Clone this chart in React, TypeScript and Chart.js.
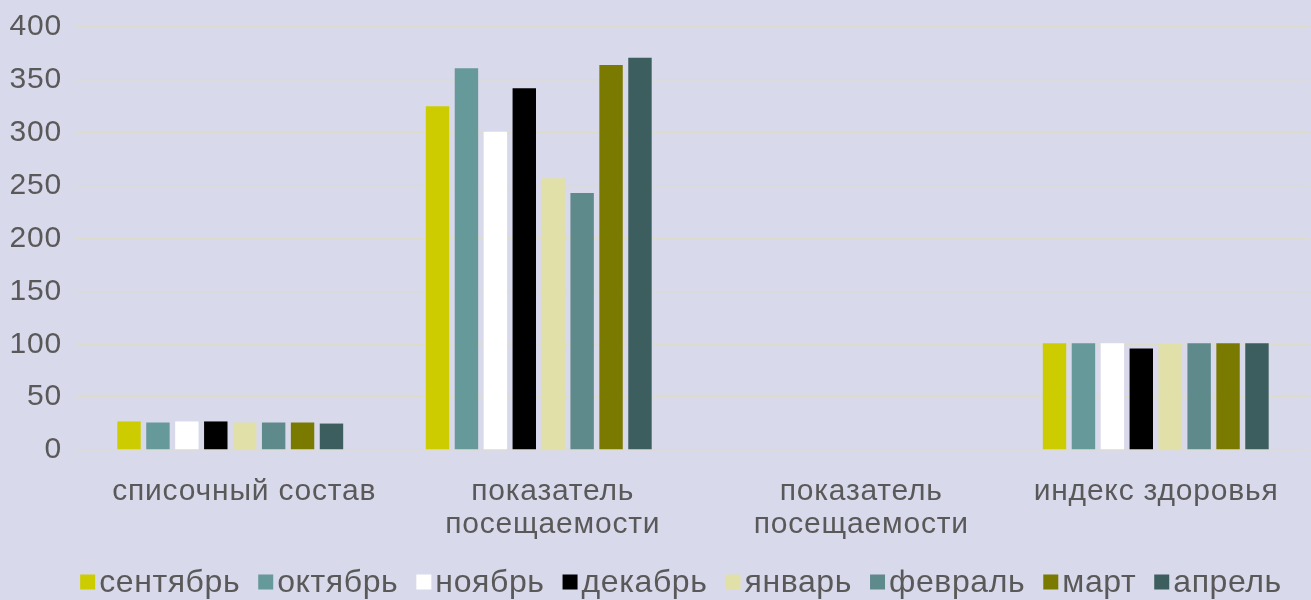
import React, { useEffect, useRef } from "react";
import { Chart, registerables } from "chart.js";

Chart.register(...registerables);

const categories: (string | string[])[] = [
  "списочный состав",
  ["показатель", "посещаемости"],
  ["показатель", "посещаемости"],
  "индекс здоровья",
];

const seriesNames = ["сентябрь", "октябрь", "ноябрь", "декабрь", "январь", "февраль", "март", "апрель"];
const seriesColors = ["#cccc00", "#669999", "#ffffff", "#000000", "#e0e0a8", "#5f8a8b", "#7a7a00", "#3d5e5e"];

const september = [27, 325, null, 101];
const october = [26, 361, null, 101];
const november = [27, 301, null, 101];
const december = [27, 342, null, 96];
const january = [26, 257, null, 101];
const february = [26, 243, null, 101];
const march = [26, 364, null, 101];
const april = [25, 371, null, 101];

const seriesValues = [september, october, november, december, january, february, march, april];

const yMax = 400;
const yStep = 50;

const FAMILY = "'Liberation Sans', Arial, sans-serif";
const TEXT_COLOR = "#595959";

const spacingPlugin = {
  id: "letterSpacing",
  beforeLayout(chart: any) {
    (chart.ctx as any).letterSpacing = "0.8px";
  },
  beforeDraw(chart: any) {
    (chart.ctx as any).letterSpacing = "0.8px";
  },
};

const legendPlugin = {
  id: "customLegend",
  afterDraw(chart: any) {
    const ctx = chart.ctx as CanvasRenderingContext2D;
    ctx.save();
    (ctx as any).letterSpacing = "0.6px";
    ctx.font = `32px ${FAMILY}`;
    const box = 15;
    const gap = 4;
    const spacing = 18;
    const items = chart.data.datasets.map((ds: any) => ({
      label: ds.label as string,
      color: ds.backgroundColor as string,
      w: ctx.measureText(ds.label).width,
    }));
    const total = items.reduce((s: number, it: any) => s + box + gap + it.w, 0) + spacing * (items.length - 1);
    let x = 681 - total / 2;
    const yc = 582;
    ctx.textBaseline = "middle";
    ctx.textAlign = "left";
    items.forEach((it: any) => {
      ctx.fillStyle = it.color;
      ctx.fillRect(x, yc - box / 2, box, box);
      x += box + gap;
      ctx.fillStyle = TEXT_COLOR;
      ctx.fillText(it.label, x, yc + 1);
      x += it.w + spacing;
    });
    ctx.restore();
  },
};

export default function App() {
  const ref = useRef<HTMLCanvasElement | null>(null);

  useEffect(() => {
    if (!ref.current) return;
    const font = { family: FAMILY, size: 30 };
    const chart = new Chart(ref.current, {
      type: "bar",
      data: {
        labels: categories,
        datasets: seriesNames.map((name, i) => ({
          label: name,
          data: seriesValues[i],
          backgroundColor: seriesColors[i],
          borderWidth: 0,
          categoryPercentage: 0.75,
          barPercentage: 0.81,
        })),
      },
      options: {
        animation: false,
        responsive: true,
        maintainAspectRatio: false,
        layout: { padding: { top: 27, right: 1, left: 0, bottom: 54 } },
        plugins: {
          legend: { display: false },
          tooltip: { enabled: false },
        },
        scales: {
          x: {
            grid: { display: false, drawTicks: false },
            border: { display: false },
            ticks: {
              color: TEXT_COLOR,
              font: { ...font, lineHeight: 1.1 },
              padding: 25,
              labelOffset: 14,
              maxRotation: 0,
              autoSkip: false,
              callback: function (this: any, _v: any, i: number) {
                const lbl = categories[i];
                return i === categories.length - 1 ? lbl + "   " : lbl;
              },
            },
            afterFit: (scale: any) => {
              scale.height = 96;
              scale.paddingLeft = 0;
              scale.paddingRight = 0;
            },
          },
          y: {
            min: 0,
            max: yMax,
            ticks: { stepSize: yStep, color: TEXT_COLOR, font, padding: 14 },
            grid: { color: "#dddccc", lineWidth: 1.5, drawTicks: false },
            border: { display: false },
            afterFit: (scale: any) => {
              scale.width = 76;
              scale.paddingTop = 0;
              scale.paddingBottom = 0;
            },
          },
        },
      },
      plugins: [spacingPlugin, legendPlugin],
    });
    return () => chart.destroy();
  }, []);

  return (
    <div
      style={{
        position: "absolute",
        left: 0,
        top: 0,
        width: 1311,
        height: 600,
        background: "#d9d9ec",
      }}
    >
      <canvas ref={ref} />
    </div>
  );
}
